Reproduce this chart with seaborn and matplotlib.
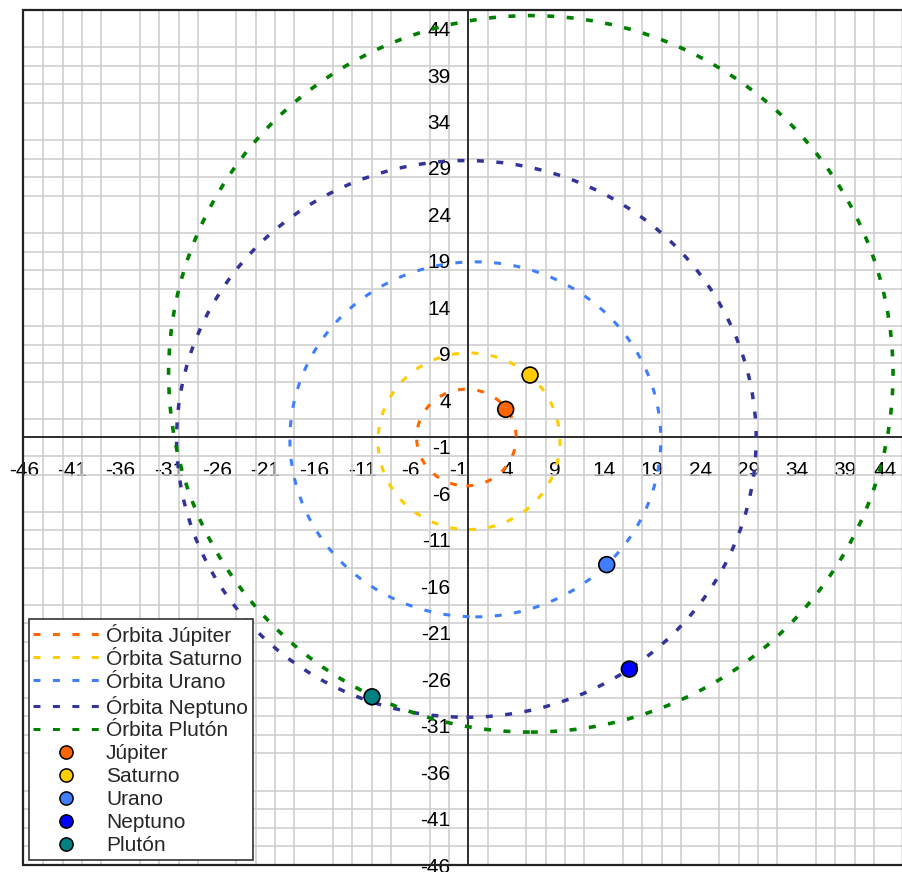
import numpy as np
import pandas as pd
import matplotlib
matplotlib.use('Agg')
import matplotlib.pyplot as plt
import matplotlib.transforms as mtransforms
from matplotlib.patches import Ellipse, Rectangle
from matplotlib.lines import Line2D
import seaborn as sns

# orbitas: centro y semiejes (UA)
orbitas = ['Órbita Júpiter', 'Órbita Saturno', 'Órbita Urano', 'Órbita Neptuno', 'Órbita Plutón']
centro_x = [-0.2, 0.07, 0.73, -0.2, 6.47]
centro_y = [0.0, -0.4, -0.2, -0.15, 6.85]
semieje_x = [5.15, 9.42, 19.2, 30.0, 37.5]
semieje_y = [5.2, 9.5, 19.1, 29.95, 38.55]
colores_orbita = ['#FF6600', '#FFCC00', '#3F7FFF', '#333399', '#008000']
grosor_orbita = [2.2, 2.2, 2.2, 2.5, 2.6]

# posicion de los planetas
planetas = ['Júpiter', 'Saturno', 'Urano', 'Neptuno', 'Plutón']
pos_x = [3.87, 6.39, 14.33, 16.67, -9.97]
pos_y = [3.03, 6.72, -13.68, -24.92, -27.9]
colores_planeta = ['#FF6600', '#FFCC00', '#3F7FFF', '#0000FF', '#008080']

marcas = np.arange(-46, 45, 5)

sns.set_style('white')
plt.rcParams['font.family'] = ['Liberation Sans', 'DejaVu Sans']
plt.rcParams['lines.scale_dashes'] = False

fig = plt.figure(figsize=(9.03, 8.72), dpi=100)
ax = fig.add_axes([23.3 / 903, 7 / 872, 1 - 23.3 / 903, 855 / 872])

guion = (0, (5, 9))
for nombre, cx, cy, rx, ry, col, lw in zip(orbitas, centro_x, centro_y, semieje_x,
                                            semieje_y, colores_orbita, grosor_orbita):
    ax.add_patch(Ellipse((cx, cy), 2 * rx, 2 * ry, fill=False, edgecolor=col,
                         linewidth=lw, linestyle=guion, zorder=3))

df = pd.DataFrame({'planeta': planetas, 'x': pos_x, 'y': pos_y})
sns.scatterplot(data=df, x='x', y='y', hue='planeta', hue_order=planetas,
                palette=colores_planeta, s=130, edgecolor='black', linewidth=1.2,
                legend=False, zorder=5, ax=ax)

ax.set_xlim(-46.07, 45.0)
ax.set_ylim(-45.97, 45.97)
ax.set_xlabel('')
ax.set_ylabel('')

# rejilla cada 2 unidades
ax.set_xticks(np.arange(-46, 46, 2), minor=True)
ax.set_yticks(np.arange(-46, 47, 2), minor=True)
ax.grid(which='minor', color='#cccccc', linewidth=1.1)
ax.grid(which='major', visible=False)
ax.set_axisbelow(True)

ax.set_xticks(marcas)
ax.set_yticks(marcas)
ax.set_xticklabels([str(v) for v in marcas])
ax.set_yticklabels([str(v) for v in marcas])

for lado in ['top', 'right']:
    ax.spines[lado].set_visible(False)
for lado in ['left', 'bottom']:
    ax.spines[lado].set_position(('data', 0))
    ax.spines[lado].set_color('#111111')
    ax.spines[lado].set_linewidth(1.2)

ax.tick_params(which='minor', length=0)
ax.tick_params(which='major', direction='inout', length=9.4, width=1.1,
               color='#333333', labelsize=15, labelcolor='black')
ax.tick_params(axis='x', pad=12)
ax.tick_params(axis='y', pad=8)

# la ultima etiqueta del eje x se corre un poco para que quepa
ultima = ax.get_xticklabels()[-1]
ultima.set_transform(ultima.get_transform() +
                     mtransforms.ScaledTranslation(-6 / 72, 0, fig.dpi_scale_trans))

ax.add_patch(Rectangle((0, 0), 1, 1, transform=ax.transAxes, fill=False,
                       edgecolor='#222222', linewidth=1.6, clip_on=False, zorder=6))

manejadores = [Line2D([], [], color=c, linewidth=2.2, linestyle=guion) for c in colores_orbita]
manejadores += [Line2D([], [], linestyle='', marker='o', markersize=9.5,
                       markerfacecolor=c, markeredgecolor='black', markeredgewidth=1.1)
                for c in colores_planeta]
leyenda = ax.legend(manejadores, orbitas + planetas, loc='lower left',
                    bbox_to_anchor=(0.006, 0.006), borderaxespad=0, fontsize=15,
                    handlelength=3.2, handletextpad=0.3, labelspacing=0.19,
                    borderpad=0.22, frameon=True, fancybox=False,
                    edgecolor='#333333', framealpha=1)
leyenda.get_frame().set_linewidth(1.2)
leyenda.set_zorder(7)

fig.savefig('out.png', dpi=100)
